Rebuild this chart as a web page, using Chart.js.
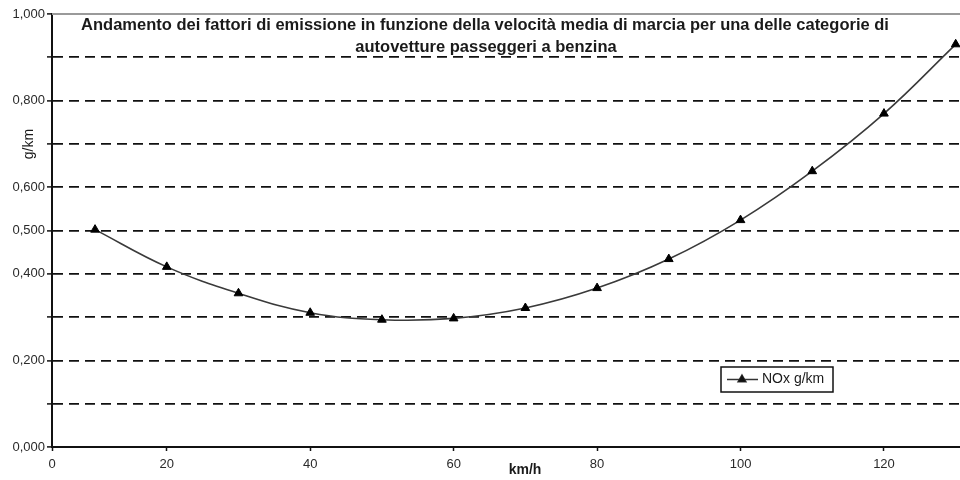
<!DOCTYPE html>
<html>
<head>
<meta charset="utf-8">
<script src="https://cdn.jsdelivr.net/npm/chart.js@4/dist/chart.umd.min.js"></script>
<style>
  html, body { margin: 0; padding: 0; background: #ffffff; }
  #wrap { width: 960px; height: 480px; position: relative; }
</style>
</head>
<body>
<div id="wrap"><canvas id="c" width="960" height="480"></canvas></div>
<script>
// ---- data ----
const titleLines = [
  "Andamento dei fattori di emissione in funzione della velocità media di marcia per una delle categorie di",
  "autovetture passeggeri a benzina"
];
const seriesName = "NOx g/km";
const xTitle = "km/h";
const yTitle = "g/km";
const speeds = [10, 20, 30, 40, 50, 60, 70, 80, 90, 100, 110, 120, 130];
const noxValues = [0.502, 0.416, 0.355, 0.310, 0.294, 0.297, 0.321, 0.367, 0.434, 0.524, 0.637, 0.770, 0.930];
const xTickValues = [4, 20, 40, 60, 80, 100, 120];
const xTickLabels = ["0", "20", "40", "60", "80", "100", "120"];
const yLabelledTicks = [0, 0.2, 0.4, 0.5, 0.6, 0.8, 1.0];

const FONT = "'Liberation Sans', Arial, sans-serif";

const overlay = {
  id: 'overlay',
  beforeDatasetsDraw(chart) {
    const {ctx, chartArea} = chart;
    ctx.save();
    ctx.strokeStyle = '#9a9a9a';
    ctx.lineWidth = 2;
    ctx.beginPath();
    ctx.moveTo(chartArea.left, chartArea.top);
    ctx.lineTo(chartArea.right, chartArea.top);
    ctx.stroke();
    ctx.restore();
  },
  afterDraw(chart) {
    const {ctx} = chart;
    ctx.save();
    // title
    ctx.fillStyle = '#1a1a1a';
    ctx.font = "bold 16.5px " + FONT;
    ctx.textAlign = 'center';
    ctx.textBaseline = 'middle';
    ctx.fillText(titleLines[0], 485, 25);
    ctx.fillText(titleLines[1], 486, 47);
    // x axis title
    ctx.font = "bold 14px " + FONT;
    ctx.fillText(xTitle, 525, 470);
    // y axis title
    ctx.save();
    ctx.translate(29, 144);
    ctx.rotate(-Math.PI / 2);
    ctx.font = "14px " + FONT;
    ctx.fillText(yTitle, 0, 0);
    ctx.restore();
    // legend
    const bx = 721, by = 367, bw = 112, bh = 25;
    ctx.fillStyle = '#ffffff';
    ctx.fillRect(bx, by, bw, bh);
    ctx.strokeStyle = '#111';
    ctx.lineWidth = 1.5;
    ctx.strokeRect(bx, by, bw, bh);
    const ly = by + bh / 2;
    ctx.strokeStyle = '#333';
    ctx.lineWidth = 1.5;
    ctx.beginPath();
    ctx.moveTo(727, ly);
    ctx.lineTo(758, ly);
    ctx.stroke();
    Chart.helpers.drawPoint(ctx, {pointStyle: 'triangle', radius: 4.5, borderWidth: 1, rotation: 0}, 742, ly);
    ctx.fillStyle = '#111';
    ctx.fill();
    ctx.fillStyle = '#1a1a1a';
    ctx.textAlign = 'left';
    ctx.font = "14px " + FONT;
    ctx.fillText(seriesName, 762, ly);
    ctx.restore();
  }
};

new Chart(document.getElementById('c'), {
  type: 'line',
  data: {
    datasets: [{
      label: seriesName,
      data: speeds.map((s, i) => ({x: s, y: noxValues[i]})),
      borderColor: '#3a3a3a',
      borderWidth: 1.6,
      tension: 0.4,
      pointStyle: 'triangle',
      pointRadius: 5,
      pointBackgroundColor: '#000',
      pointBorderColor: '#000',
      pointBorderWidth: 1,
      clip: false
    }]
  },
  options: {
    responsive: false,
    animation: false,
    devicePixelRatio: 1,
    layout: { autoPadding: false, padding: { top: 14, right: 0, left: 0, bottom: 0 } },
    plugins: {
      legend: { display: false },
      title: { display: false },
      tooltip: { enabled: false }
    },
    scales: {
      x: {
        type: 'linear',
        min: 4,
        max: 130.6,
        afterBuildTicks(scale) {
          scale.ticks = xTickValues.map(v => ({value: v}));
        },
        afterFit(scale) {
          scale.height = 33;
          scale.paddingLeft = 0;
          scale.paddingRight = 0;
        },
        ticks: {
          autoSkip: false,
          maxRotation: 0,
          padding: 6,
          color: '#2a2a2a',
          font: { family: FONT, size: 13 },
          callback(value) {
            const i = xTickValues.indexOf(value);
            return i >= 0 ? xTickLabels[i] : '';
          }
        },
        grid: {
          drawOnChartArea: false,
          drawTicks: true,
          tickLength: 4,
          tickColor: '#111',
          tickWidth: 1.5
        },
        border: { display: true, color: '#111', width: 2 }
      },
      y: {
        type: 'linear',
        min: 0,
        max: 1,
        afterFit(scale) {
          scale.width = 52;
          scale.paddingTop = 0;
          scale.paddingBottom = 0;
        },
        ticks: {
          stepSize: 0.1,
          padding: 2,
          color: '#2a2a2a',
          font: { family: FONT, size: 13 },
          callback(value) {
            const show = yLabelledTicks.some(v => Math.abs(v - value) < 1e-6);
            return show ? value.toFixed(3).replace('.', ',') : '';
          }
        },
        grid: {
          color(ctx) {
            const v = ctx.tick ? ctx.tick.value : null;
            if (v === null || Math.abs(v) < 1e-6 || Math.abs(v - 1) < 1e-6) return 'rgba(0,0,0,0)';
            return '#111';
          },
          lineWidth: 1.8,
          drawTicks: true,
          tickLength: 5,
          tickColor: '#111',
          tickWidth: 1.5,
          tickBorderDash: []
        },
        border: { display: true, color: '#111', width: 2, dash: [10, 6] }
      }
    }
  },
  plugins: [overlay]
});
</script>
</body>
</html>
